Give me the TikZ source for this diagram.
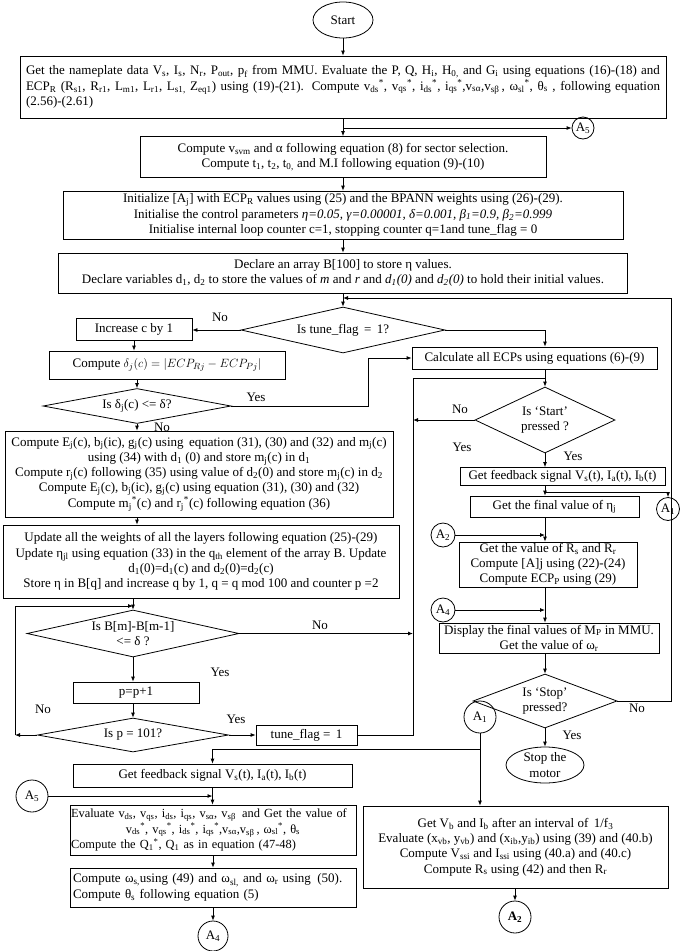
\documentclass[tikz,border=0pt]{standalone}
\usepackage{fontspec}
\setmainfont{Liberation Serif}
\usetikzlibrary{shapes.geometric,arrows.meta}
\newcommand{\tsb}[1]{\textsubscript{#1}}
\newcommand{\tsp}[1]{\textsuperscript{#1}}

\begin{document}
\begin{tikzpicture}[x=1pt,y=-1pt,
        font=\fontsize{13}{15.3}\selectfont,
        line width=0.8pt,
        >={Latex[length=5pt,width=4pt]},
        box/.style={draw,rectangle,inner sep=1pt,align=center},
        dia/.style={draw,diamond,inner sep=0pt,align=center},
        oval/.style={draw,ellipse,inner sep=0pt,align=center},
        conn/.style={draw,circle,inner sep=0pt},
        lbl/.style={inner sep=0pt}]
    \useasboundingbox (0,0) rectangle (685,951);

    % main column at the top
    \node[oval,minimum width=60,minimum height=36] (start) at (343,20) {Start};
    \node[box,minimum width=646,minimum height=62,text width=634,align=justify] (plate) at (343,87)
        {Get the nameplate data V\tsb{s}, I\tsb{s}, N\tsb{r}, P\tsb{out}, p\tsb{f} from MMU. Evaluate the P, Q, H\tsb{i}, H\tsb{0,} and G\tsb{i} using equations (16)-(18) and\linebreak
         ECP\tsb{R} (R\tsb{s1}, R\tsb{r1}, L\tsb{m1}, L\tsb{r1}, L\tsb{s1,} Z\tsb{eq1}) using (19)-(21). Compute v\tsb{ds}\tsp{*}, v\tsb{qs}\tsp{*}, i\tsb{ds}\tsp{*}, i\tsb{qs}\tsp{*},v\tsb{sα},v\tsb{sβ}\,, ω\tsb{sl}\tsp{*}, θ\tsb{s} , following equation\linebreak
         (2.56)-(2.61)};
    \node[conn,minimum size=22] (a5top) at (583,128) {A\tsb{5}};
    \node[box,minimum width=406,minimum height=41] (svm) at (343,157)
        {Compute v\tsb{svm} and α following equation (8) for sector selection.\\
         Compute t\tsb{1}, t\tsb{2}, t\tsb{0,} and M.I following equation (9)-(10)};
    \node[box,minimum width=560,minimum height=48] (init) at (343,215)
        {Initialize [A\tsb{j}] with ECP\tsb{R} values using (25) and the BPANN weights using (26)-(29).\\
         Initialise the control parameters \textit{η=0.05, γ=0.00001, δ=0.001, β\tsb{1}=0.9, β\tsb{2}=0.999}\\
         Initialise internal loop counter c=1, stopping counter q=1and tune\_flag = 0};
    \node[box,minimum width=569,minimum height=40] (arr) at (343,273)
        {Declare an array B[100] to store η values.\\
         Declare variables d\tsb{1}, d\tsb{2} to store the values of \textit{m} and \textit{r} and \textit{d\tsb{1}(0)} and \textit{d\tsb{2}(0)} to hold their initial values.};
    \node[dia,minimum width=204,minimum height=46,aspect=4.4] (tune) at (343,330) {Is tune\_flag \,=\, 1?};

    % left column: training loop
    \node[box,minimum width=116,minimum height=22] (incc) at (134,329) {Increase c by 1};
    \node[box,minimum width=236,minimum height=28] (delc) at (167,365)
        {Compute $\delta_j(c)=\bigl|ECP_{Rj}-ECP_{Pj}\bigr|$};
    \node[dia,minimum width=188,minimum height=35,aspect=5.4] (deld) at (137,406) {Is δ\tsb{j}(c) <= δ?};
    \node[box,minimum width=388,minimum height=86] (compE) at (199,474)
        {Compute E\tsb{j}(c), b\tsb{j}(ic), g\tsb{j}(c) using \,equation (31), (30) and (32) and m\tsb{j}(c)\\
         using (34) with d\tsb{1} (0) and store m\tsb{j}(c) in d\tsb{1}\\
         Compute r\tsb{j}(c) following (35) using value of d\tsb{2}(0) and store m\tsb{j}(c) in d\tsb{2}\\
         Compute E\tsb{j}(c), b\tsb{j}(ic), g\tsb{j}(c) using equation (31), (30) and (32)\\
         Compute m\tsb{j}\tsp{*}(c) and r\tsb{j}\tsp{*}(c) following equation (36)};
    \node[box,minimum width=396,minimum height=73] (upd) at (201,561.5)
        {Update all the weights of all the layers following equation (25)-(29)\\
         Update η\tsb{jl} using equation (33) in the q\tsb{th} element of the array B. Update\\
         d\tsb{1}(0)=d\tsb{1}(c) and d\tsb{2}(0)=d\tsb{2}(c)\\
         Store η in B[q] and increase q by 1, q = q mod 100 and counter p =2};
    \node[dia,minimum width=212,minimum height=47,aspect=4.5] (bdiam) at (133,633.5) {Is B[m]-B[m-1]\\ <= δ ?};
    \node[box,minimum width=126,minimum height=21] (pp1) at (136,692.5) {p=p+1};
    \node[dia,minimum width=191,minimum height=34,aspect=5.6] (pdiam) at (133,735) {Is p = 101?};
    \node[box,minimum width=101,minimum height=20] (tf1) at (306.5,735) {tune\_flag = \,1};

    % right column: running the motor
    \node[box,minimum width=245,minimum height=22] (calc) at (534.5,358) {Calculate all ECPs using equations (6)-(9)};
    \node[dia,minimum width=140,minimum height=66,aspect=2.1] (sdiam) at (545,420) {Is ‘Start’\\ pressed ?};
    \node[box,minimum width=205,minimum height=18] (fb1) at (562.5,476.5) {Get feedback signal V\tsb{s}(t), I\tsb{a}(t), I\tsb{b}(t)};
    \node[box,minimum width=169,minimum height=21] (fin) at (554.5,506.5) {Get the final value of η\tsb{j}};
    \node[conn,minimum size=23] (a1r) at (668,509) {A\tsb{1}};
    \node[conn,minimum size=24] (a2r) at (443,535) {A\tsb{2}};
    \node[box,minimum width=178,minimum height=45] (rsr) at (548,564.5)
        {Get the value of R\tsb{s} and R\tsb{r}\\ Compute [A]j using (22)-(24)\\ Compute ECP\tsb{P} using (29)};
    \node[conn,minimum size=24] (a4r) at (443,610) {A\tsb{4}};
    \node[box,minimum width=220,minimum height=30] (disp) at (549,638)
        {Display the final values of M\tsb{P} in MMU.\\ Get the value of ω\tsb{r}};
    \node[dia,minimum width=144,minimum height=54,aspect=2.7] (stopd) at (545,701) {Is ‘Stop’\\ pressed?};
    \node[oval,minimum width=78,minimum height=36] (stopm) at (545,765) {Stop the\\ motor};

    % bottom part: estimation
    \node[conn,minimum size=32] (a1) at (480,717) {A\tsb{1}};
    \node[box,minimum width=279,minimum height=23] (fb2) at (212.5,775.5) {Get feedback signal V\tsb{s}(t), I\tsb{a}(t), I\tsb{b}(t)};
    \node[conn,minimum size=32] (a5) at (32,796) {A\tsb{5}};
    \node[box,minimum width=286,minimum height=50,text width=284,inner sep=1pt,align=left,
          font=\fontsize{12.4}{15.3}\selectfont] (eval) at (213,830)
        {Evaluate v\tsb{ds}, v\tsb{qs}, i\tsb{ds}, i\tsb{qs}, v\tsb{sα}, v\tsb{sβ} \,and Get the value of\\
         \makebox[\linewidth]{v\tsb{ds}\tsp{*}, v\tsb{qs}\tsp{*}, i\tsb{ds}\tsp{*}, i\tsb{qs}\tsp{*},v\tsb{sα},v\tsb{sβ}\,, ω\tsb{sl}\tsp{*}, θ\tsb{s}}\\
         Compute the Q\tsb{1}\tsp{*}, Q\tsb{1} as in equation (47-48)};
    \node[box,minimum width=286,minimum height=39,text width=280,align=left] (compw) at (213,887.5)
        {Compute ω\tsb{s,}using (49) and ω\tsb{sl,} and ω\tsb{r} using \,(50).\\
         Compute θ\tsb{s} following equation (5)};
    \node[conn,minimum size=30] (a4b) at (213,936) {A\tsb{4}};
    \node[box,minimum width=305,minimum height=82] (vb) at (515.5,847)
        {Get V\tsb{b} and I\tsb{b} after an interval of \,1/f\tsb{3}\\
         Evaluate (x\tsb{vb}, y\tsb{vb}) and (x\tsb{ib},y\tsb{ib}) using (39) and (40.b)\\
         Compute V\tsb{ssi} and I\tsb{ssi} using (40.a) and (40.c)\\
         Compute R\tsb{s} using (42) and then R\tsb{r}};
    \node[conn,minimum size=32] (a2b) at (515,917) {\textbf{A\tsb{2}}};

    % corner points of the loops
    \coordinate (rloop) at (671,298);
    \coordinate (yjoin) at (368,358);
    \coordinate (vjoin) at (413,378);
    \coordinate (ploop) at (15,606);
    \coordinate (fsplit) at (545,492);
    \coordinate (asplit) at (480,749);

    % connectors, top
    \draw[->] (start) -- (plate);
    \draw[->] (plate) -- (svm);
    \draw[->] (plate.south |- a5top) -- (a5top);
    \draw[->] (svm) -- (init);
    \draw[->] (init) -- (arr);
    \draw[->] (arr) -- (tune);
    \draw[->] (stopd.east) -| (rloop) -- (rloop -| tune.north); % No from Stop
    % connectors, left
    \draw[->] (tune.west) -- (tune.west -| incc.east);
    \draw[->] (incc.south) -- (incc.south |- delc.north);
    \draw[->] (deld.north |- delc.south) -- (deld.north);
    \draw[->] (deld.east) -| (yjoin) -- (calc.west);
    \draw[->] (deld.south) -- (deld.south |- compE.north);
    \draw[->] (deld.south |- compE.south) -- (deld.south |- upd.north);
    \draw[->] (bdiam.north |- upd.south) -- (bdiam.north);
    \draw[->] (bdiam.east) -- (bdiam.east -| vjoin);
    \draw[->] (bdiam.south) -- (bdiam.south |- pp1.north);
    \draw[->] (bdiam.south |- pp1.south) -- (pdiam.north);
    \draw[->] (pdiam.west) -- (pdiam.west -| ploop);
    \draw[->] (pdiam.west -| ploop) -- (ploop) -- (ploop -| bdiam.north);
    \draw[->] (pdiam.east) -- (tf1.west);
    \draw (tf1.east) -| (vjoin) -- (vjoin -| sdiam.north);
    % connectors, right
    \draw[->] (tune.east) -| (sdiam.north |- calc.north);
    \draw[->] (sdiam.north |- calc.south) -- (sdiam.north);
    \draw[->] (sdiam.west) -- (sdiam.west -| vjoin);
    \draw[->] (sdiam.south) -- (sdiam.south |- fb1.north);
    \draw[->] (sdiam.south |- fb1.south) -- (sdiam.south |- fin.north);
    \draw[->] (fsplit) -| (a1r.north);
    \draw[->] (sdiam.south |- fin.south) -- (sdiam.south |- rsr.north);
    \draw[->] (a2r.east) -- (a2r.east -| sdiam.south);
    \draw[->] (sdiam.south |- rsr.south) -- (sdiam.south |- disp.north);
    \draw[->] (a4r.east) -- (a4r.east -| sdiam.south);
    \draw[->] (sdiam.south |- disp.south) -- (stopd.north);
    \draw[->] (stopd.south) -- (stopm.north);
    % connectors, bottom
    \draw[->] (a1.south) -- (a1.south |- vb.north);
    \draw[->] (asplit) -| (fb2.north);
    \draw[->] (a5.east) -- (a5.east -| fb2.south);
    \draw[->] (fb2.south) -- (fb2.south |- eval.north);
    \draw[->] (eval.south) -- (compw.north);
    \draw[->] (compw.south) -- (a4b.north);
    \draw[->] (vb.south -| a2b.north) -- (a2b.north);

    % branch labels
    \node[lbl] (no1) at (220,317) {No};
    \node[lbl] (yes1) at (256,397) {Yes};
    \node[lbl] (no2) at (162,427) {No};
    \node[lbl] (no3) at (320,625) {No};
    \node[lbl] (yes2) at (220,672) {Yes};
    \node[lbl] (no4) at (43,709) {No};
    \node[lbl] (yes3) at (236,719) {Yes};
    \node[lbl] (no5) at (460,409) {No};
    \node[lbl] (yes4) at (462,447) {Yes};
    \node[lbl] (yes5) at (573,456) {Yes};
    \node[lbl] (no6) at (637,708) {No};
    \node[lbl] (yes6) at (572,735) {Yes};
\end{tikzpicture}
\end{document}
